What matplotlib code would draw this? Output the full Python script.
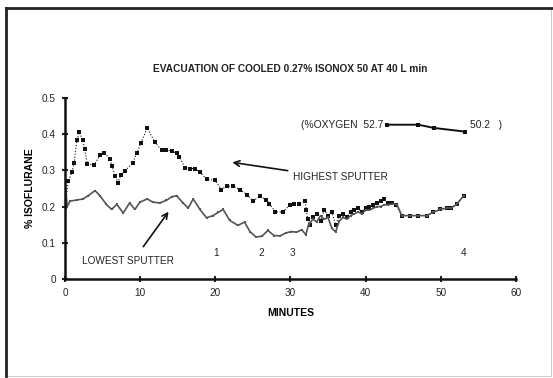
import matplotlib
matplotlib.use('Agg')
import matplotlib.pyplot as plt
from matplotlib.patches import Rectangle

plt.rcParams['font.family'] = ['Liberation Sans', 'DejaVu Sans']
plt.rcParams['text.color'] = '#222222'

# highest sputter (dotted, square markers)
high_min = [0, 0.45, 0.93, 1.2, 1.6, 1.9, 2.35, 2.6, 2.97, 3.9, 4.7, 5.2, 6.0, 6.25, 6.7, 7.05, 7.45,
            8.0, 9.0, 9.6, 10.07, 10.95, 11.97, 12.85, 13.5, 14.2, 14.85, 15.2, 15.96, 16.6, 17.3,
            17.95, 18.84, 19.95, 20.8, 21.5, 22.4, 23.3, 24.2, 25.0, 25.9, 26.8, 27.2, 28.0, 29.0,
            29.9, 30.45, 31.07, 31.96, 32.1, 32.3, 32.6, 33, 33.5, 34, 34.5, 35, 35.5, 36, 36.5, 37,
            37.5, 38, 38.5, 39, 39.5, 40, 40.5, 41, 41.5, 42, 42.5, 43, 43.5, 44, 44.8, 45.9, 47,
            48.1, 49, 49.9, 50.8, 51.4, 52.1, 53.06]
high_pct = [0.20, 0.27, 0.295, 0.32, 0.384, 0.405, 0.384, 0.36, 0.317, 0.315, 0.343, 0.348, 0.332,
            0.312, 0.284, 0.266, 0.288, 0.299, 0.32, 0.349, 0.375, 0.417, 0.377, 0.356, 0.355, 0.354,
            0.347, 0.338, 0.307, 0.305, 0.305, 0.295, 0.275, 0.273, 0.247, 0.256, 0.256, 0.247, 0.233,
            0.215, 0.228, 0.219, 0.208, 0.185, 0.185, 0.204, 0.206, 0.206, 0.215, 0.19, 0.165, 0.15,
            0.17, 0.18, 0.16, 0.19, 0.175, 0.185, 0.15, 0.175, 0.18, 0.17, 0.185, 0.19, 0.195, 0.185,
            0.195, 0.2, 0.205, 0.21, 0.215, 0.22, 0.21, 0.21, 0.205, 0.175, 0.175, 0.175, 0.175, 0.184,
            0.192, 0.196, 0.196, 0.206, 0.23]

# lowest sputter (solid)
low_min = [0, 0.3, 0.66, 1.55, 2.4, 3.1, 4.0, 4.65, 5.5, 6.2, 6.9, 7.75, 8.6, 9.3, 9.97, 10.95, 11.7,
           12.6, 13.5, 14.2, 14.85, 15.7, 16.4, 17.06, 17.95, 18.84, 19.7, 20.4, 21.05, 21.9, 23.0,
           23.9, 24.6, 25.4, 26.2, 27.0, 27.8, 28.6, 29.4, 30.1, 30.8, 31.5, 32.05, 32.4, 33, 33.5,
           34, 34.5, 35, 35.5, 36, 36.5, 37, 37.5, 38, 38.5, 39, 39.5, 40, 40.5, 41, 41.5, 42, 42.5,
           43, 43.7, 44.2, 44.8, 45.9, 47, 48.1, 49, 49.9, 50.8, 51.4, 52.1, 53.06]
low_pct = [0.27, 0.2, 0.215, 0.218, 0.221, 0.23, 0.244, 0.23, 0.206, 0.192, 0.206, 0.182, 0.21, 0.192,
           0.212, 0.221, 0.212, 0.21, 0.217, 0.227, 0.23, 0.21, 0.196, 0.221, 0.192, 0.169, 0.175,
           0.184, 0.192, 0.162, 0.148, 0.157, 0.131, 0.116, 0.118, 0.134, 0.12, 0.119, 0.127, 0.131,
           0.129, 0.136, 0.122, 0.15, 0.165, 0.158, 0.175, 0.165, 0.17, 0.14, 0.13, 0.16, 0.17, 0.165,
           0.175, 0.18, 0.185, 0.18, 0.19, 0.19, 0.195, 0.2, 0.2, 0.205, 0.205, 0.208, 0.205, 0.175,
           0.175, 0.175, 0.175, 0.184, 0.192, 0.196, 0.196, 0.206, 0.23]

# oxygen overlay line (drawn in the plot's own coordinates)
oxy_min = [42.8, 47, 49.1, 53.2]
oxy_pos = [0.426, 0.426, 0.417, 0.407]

# numbered event markers
event_labels = ['1', '2', '3', '4']
event_min = [20.1, 26.1, 30.2, 53.0]

fig = plt.figure(figsize=(5.53, 3.78), dpi=100)
# scanned frame
fig.patches.append(Rectangle((0.011, 0.005), 0.986, 0.974, transform=fig.transFigure,
                             fill=False, edgecolor='#cccccc', linewidth=0.8))
fig.lines.append(plt.Line2D([0.011, 0.011], [0.005, 0.979], transform=fig.transFigure,
                            color='#222222', linewidth=2))
fig.lines.append(plt.Line2D([0.011, 1.0], [0.979, 0.979], transform=fig.transFigure,
                            color='#222222', linewidth=2))

ax = fig.add_axes([0.1175, 0.262, 0.8155, 0.479])

ax.plot(high_min, high_pct, linestyle=':', color='#111111', linewidth=0.8,
        marker='s', markersize=2.6, markeredgewidth=0)
ax.plot(low_min, low_pct, linestyle='-', color='#555555', linewidth=1.2,
        marker='s', markersize=1.5, markeredgewidth=0)
ax.plot(oxy_min, oxy_pos, linestyle='-', color='#111111', linewidth=1.4,
        marker='s', markersize=2.8, markeredgewidth=0)

ax.set_xlim(0, 60)
ax.set_ylim(0, 0.5)
ax.set_xticks(range(0, 61, 10))
ax.set_yticks([0, 0.1, 0.2, 0.3, 0.4, 0.5])
ax.set_yticklabels(['0', '0.1', '0.2', '0.3', '0.4', '0.5'])
ax.tick_params(direction='inout', length=5, width=1.5, labelsize=7.2, colors='#222222', pad=4)
ax.spines['top'].set_visible(False)
ax.spines['right'].set_visible(False)
ax.spines['left'].set_linewidth(1.8)
ax.spines['bottom'].set_linewidth(1.8)
ax.spines['left'].set_color('#111111')
ax.spines['bottom'].set_color('#111111')
ax.set_xlabel('MINUTES', fontsize=7.5, fontweight='bold', labelpad=7)
ax.set_ylabel('% ISOFLURANE', fontsize=7.5, fontweight='bold', labelpad=5)
ax.set_facecolor('none')

fig.text(0.525, 0.818, 'EVACUATION OF COOLED 0.27% ISONOX 50 AT 40 L min',
         ha='center', va='center', fontsize=7.3, fontweight='bold')

ax.text(42.4, 0.426, '(%OXYGEN  52.7', ha='right', va='center', fontsize=7.4)
ax.text(53.9, 0.426, '50.2   )', ha='left', va='center', fontsize=7.4)

ax.annotate('', xy=(21.9, 0.323), xytext=(30.0, 0.298),
            arrowprops=dict(arrowstyle='->', color='#111111', lw=1.2))
ax.text(30.3, 0.282, 'HIGHEST SPUTTER', ha='left', va='center', fontsize=7.3)

ax.annotate('', xy=(14.0, 0.192), xytext=(10.2, 0.083),
            arrowprops=dict(arrowstyle='->', color='#111111', lw=1.2))
ax.text(2.2, 0.05, 'LOWEST SPUTTER', ha='left', va='center', fontsize=7.2)

for lab, t in zip(event_labels, event_min):
    ax.text(t, 0.072, lab, ha='center', va='center', fontsize=7.2)

fig.savefig('out.png', dpi=100)
